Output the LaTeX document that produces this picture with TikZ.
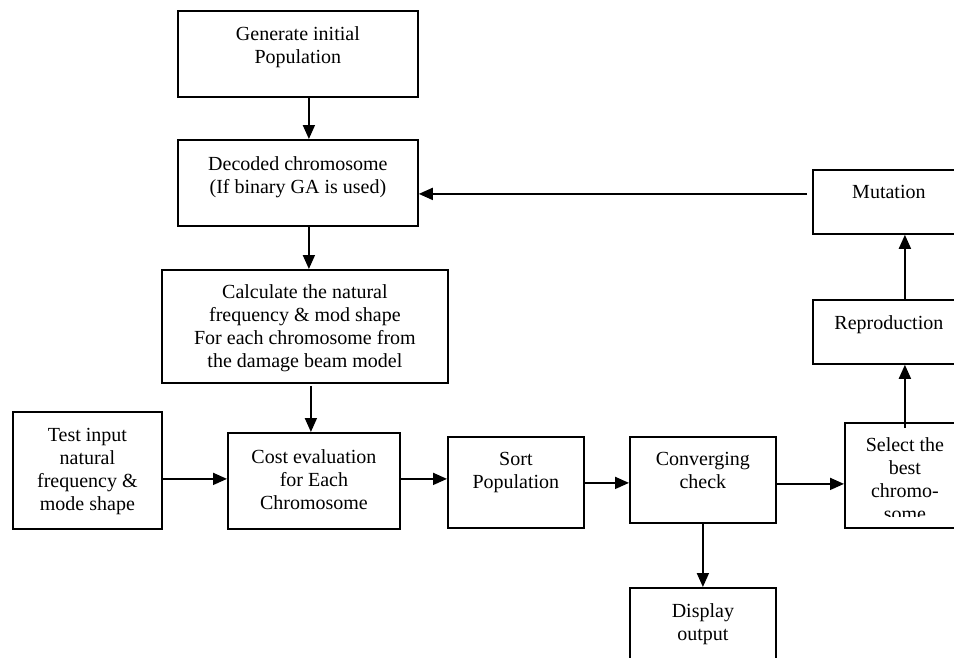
\documentclass[tikz,border=0pt]{standalone}
\usepackage{fontspec}
\setmainfont{Liberation Serif}
\usetikzlibrary{arrows.meta}

\begin{document}
\begin{tikzpicture}[
  x=1pt, y=-1pt,
  >={Triangle[length=14pt,width=12pt]},
  every node/.style={font=\fontsize{20}{23}\selectfont, align=center},
  blk/.style  ={draw, line width=1.8pt, anchor=north west, inner sep=0pt},
  flow/.style ={->, line width=1.8pt},
]
\useasboundingbox (0,0) rectangle (954,657);

%% ── left / centre column ─────────────────────────────────────
\node[blk, minimum width=240pt, minimum height=86pt, text height=53pt, text depth=33pt]
  (gen) at (177,10) {Generate initial\\Population};
\node[blk, minimum width=240pt, minimum height=86pt, text height=54pt, text depth=32pt]
  (dec) at (177,139) {Decoded chromosome\\(If binary GA is used)};
\node[blk, minimum width=286pt, minimum height=113pt, text height=98pt, text depth=15pt]
  (calc) at (161,269)
  {Calculate the natural\\frequency \& mod shape\\For each chromosome from\\the damage beam model};

%% ── bottom row ───────────────────────────────────────────────
\node[blk, minimum width=149pt, minimum height=117pt, text height=99pt, text depth=18pt]
  (test) at (12,411) {Test input\\natural\\frequency \&\\mode shape};
\node[blk, minimum width=172pt, minimum height=96pt, text height=77pt, text depth=19pt]
  (cost) at (227,432) {Cost evaluation\\for Each\\Chromosome};
\node[blk, minimum width=136pt, minimum height=91pt, text height=52pt, text depth=39pt]
  (sort) at (447,436) {Sort\\Population};
\node[blk, minimum width=146pt, minimum height=86pt, text height=52pt, text depth=34pt]
  (conv) at (629,436) {Converging\\check};
\node[blk, minimum width=146pt, minimum height=90pt, text height=53pt, text depth=37pt]
  (disp) at (629,587) {Display\\output};

%% ── right column ─────────────────────────────────────────────
\node[blk, minimum width=152pt, minimum height=64pt, text height=29pt, text depth=35pt]
  (mut) at (812,169) {Mutation};
\node[blk, minimum width=152pt, minimum height=64pt, text height=30pt, text depth=34pt]
  (rep) at (812,299) {Reproduction};
\node[blk, minimum width=120pt, minimum height=105pt] (sel) at (844,422) {};
\begin{scope}
  \clip (844,422) rectangle (964,516);
  \node[anchor=north, inner sep=0pt, text height=98pt, text depth=7pt]
    (seltxt) at (sel.north) {Select the\\best\\chromo-\\some};
\end{scope}

%% ── connectors ───────────────────────────────────────────────
\draw[flow] ([xshift=11pt]gen.south) -- ([xshift=11pt]dec.north);
\draw[flow] ([xshift=11pt]dec.south) -- ([xshift=11pt]dec.south |- calc.north);
\draw[flow] ([xshift=6pt,yshift=-2pt]calc.south) -- ([xshift=6pt]calc.south |- cost.north);
\draw[flow] ([yshift=-8.5pt]test.east) -- ([yshift=-8.5pt]test.east -| cost.west);
\draw[flow] ([yshift=2pt]cost.east) -- ([yshift=2pt]cost.east -| sort.west);
\draw[flow] ([yshift=-0.5pt]sort.east) -- ([yshift=-0.5pt]sort.east -| conv.west);
\draw[flow] ([yshift=-4pt]conv.east) -- ([yshift=-4pt]conv.east -| sel.west);
\draw[flow] (conv.south) -- (disp.north);
\draw[flow] ([yshift=-6pt]sel.north) -- (sel.north |- rep.south);
\draw[flow] (sel.north |- rep.north) -- (sel.north |- mut.south);
\draw[flow] ([xshift=-5pt,yshift=8pt]mut.west) -- ([yshift=8pt]mut.west -| dec.east);

\end{tikzpicture}
\end{document}
